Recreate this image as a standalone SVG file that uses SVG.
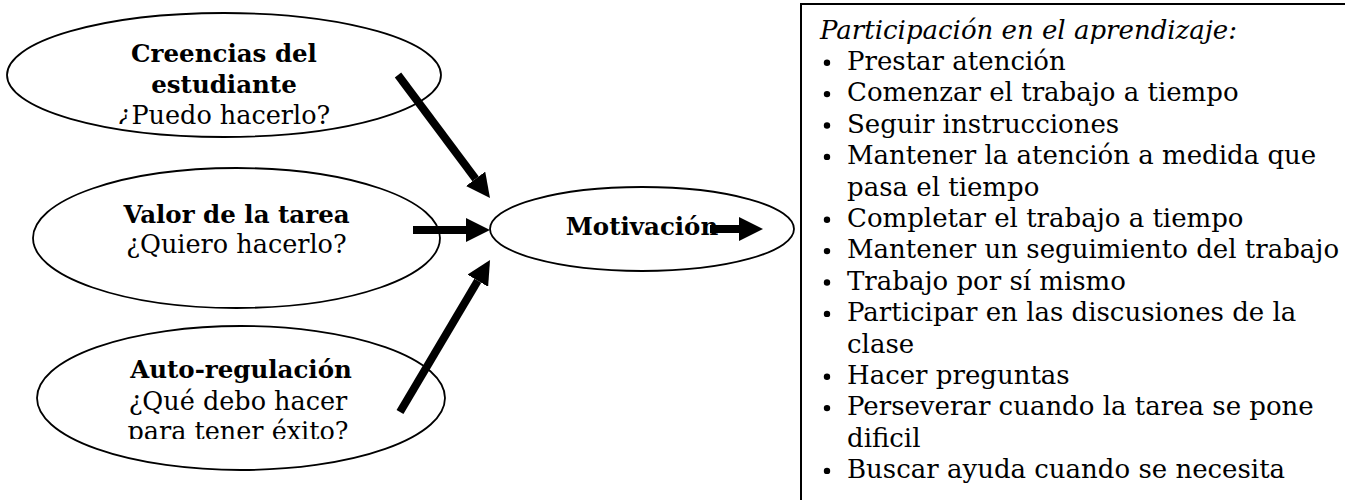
<svg xmlns="http://www.w3.org/2000/svg" width="1345" height="500" viewBox="0 0 1345 500">
  <style>
    .ell { fill: #ffffff; stroke: #000000; stroke-width: 1.8; }
    .b { font-family: "DejaVu Serif", "Liberation Serif", serif; font-weight: bold; font-size: 24.5px; fill: #000; text-anchor: middle; }
    .r { font-family: "DejaVu Serif", "Liberation Serif", serif; font-size: 25.5px; fill: #000; text-anchor: middle; }
    .t { font-family: "DejaVu Serif", "Liberation Serif", serif; font-size: 26px; fill: #000; }
    .ti { font-style: italic; }
    .arr { stroke: #000000; stroke-width: 8; fill: none; marker-end: url(#head); }
  </style>
  <defs>
    <marker id="head" viewBox="0 0 24 24" refX="0" refY="12" markerWidth="24" markerHeight="24" markerUnits="userSpaceOnUse" orient="auto">
      <path d="M0,0 L24,12 L0,24 z" fill="#000"/>
    </marker>
    <clipPath id="clip1"><rect x="0" y="20" width="450" height="104"/></clipPath>
    <clipPath id="clip3"><rect x="0" y="340" width="450" height="99"/></clipPath>
  </defs>
  <rect x="0" y="0" width="1345" height="500" fill="#ffffff"/>

  <g id="node-creencias">
    <ellipse class="ell" cx="224" cy="75" rx="217" ry="62"/>
    <g clip-path="url(#clip1)">
      <text class="b" x="224" y="62">Creencias del</text>
      <text class="b" x="224" y="93">estudiante</text>
      <text class="r" x="224" y="124">¿Puedo hacerlo?</text>
    </g>
  </g>

  <g id="node-valor">
    <ellipse class="ell" cx="236.5" cy="238" rx="203.5" ry="70"/>
    <text class="b" x="236.5" y="223">Valor de la tarea</text>
    <text class="r" x="236.5" y="253">¿Quiero hacerlo?</text>
  </g>

  <g id="node-autoregulacion">
    <ellipse class="ell" cx="241" cy="398" rx="204" ry="72"/>
    <g clip-path="url(#clip3)">
      <text class="b" x="241" y="378">Auto-regulación</text>
      <text class="r" x="238" y="410">¿Qué debo hacer</text>
      <text class="r" x="238" y="440">para tener éxito?</text>
    </g>
  </g>

  <g id="node-motivacion">
    <ellipse class="ell" cx="642" cy="229" rx="152" ry="42"/>
    <text class="b" x="642" y="235">Motivación</text>
  </g>

  <g id="node-participacion">
    <rect x="801" y="4" width="600" height="600" fill="#ffffff" stroke="#000" stroke-width="2"/>
    <text class="t ti" x="820" y="38.5">Participación en el aprendizaje:</text>
    <g fill="#000">
      <circle cx="827" cy="62.7" r="3.2"/>
      <circle cx="827" cy="94.1" r="3.2"/>
      <circle cx="827" cy="125.5" r="3.2"/>
      <circle cx="827" cy="156.9" r="3.2"/>
      <circle cx="827" cy="219.7" r="3.2"/>
      <circle cx="827" cy="251.1" r="3.2"/>
      <circle cx="827" cy="282.5" r="3.2"/>
      <circle cx="827" cy="313.9" r="3.2"/>
      <circle cx="827" cy="376.7" r="3.2"/>
      <circle cx="827" cy="408.1" r="3.2"/>
      <circle cx="827" cy="470.9" r="3.2"/>
    </g>
    <text class="t" x="847" y="69.9">Prestar atención</text>
    <text class="t" x="847" y="101.3">Comenzar el trabajo a tiempo</text>
    <text class="t" x="847" y="132.7">Seguir instrucciones</text>
    <text class="t" x="847" y="164.1">Mantener la atención a medida que</text>
    <text class="t" x="847" y="195.5">pasa el tiempo</text>
    <text class="t" x="847" y="226.9">Completar el trabajo a tiempo</text>
    <text class="t" x="847" y="258.3">Mantener un seguimiento del trabajo</text>
    <text class="t" x="847" y="289.7">Trabajo por sí mismo</text>
    <text class="t" x="847" y="321.1">Participar en las discusiones de la</text>
    <text class="t" x="847" y="352.5">clase</text>
    <text class="t" x="847" y="383.9">Hacer preguntas</text>
    <text class="t" x="847" y="415.3">Perseverar cuando la tarea se pone</text>
    <text class="t" x="847" y="446.7">dificil</text>
    <text class="t" x="847" y="478.1">Buscar ayuda cuando se necesita</text>
  </g>

  <g id="connectors">
    <line class="arr" x1="398" y1="75" x2="475.6" y2="178.8"/>
    <line class="arr" x1="413" y1="230" x2="466" y2="230"/>
    <line class="arr" x1="400" y1="412" x2="477.8" y2="280.7"/>
    <line class="arr" x1="710" y1="229" x2="739" y2="229"/>
  </g>
</svg>
